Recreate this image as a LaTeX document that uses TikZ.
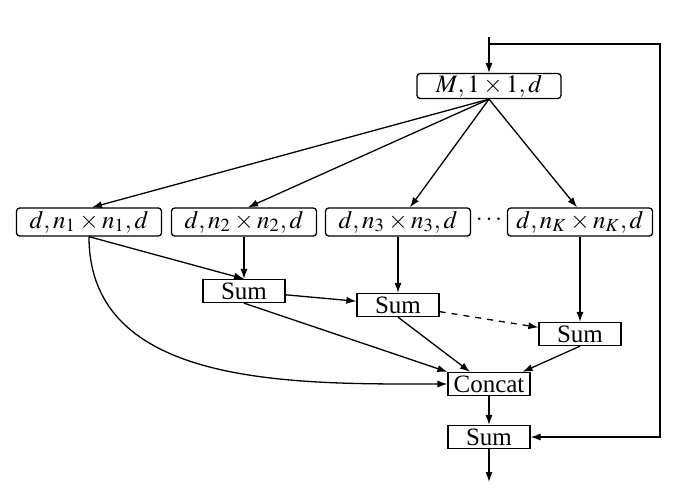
\documentclass[tikz,border=0pt]{standalone}
\usepackage{mathptmx}
\usepackage{fontspec}
\setmainfont{Liberation Serif}
\usetikzlibrary{arrows.meta}

\begin{document}
\begin{tikzpicture}[
            x=0.5pt, y=-0.5pt,
            every node/.style={draw, inner sep=0pt, font=\fontsize{12.5}{14}\selectfont},
            convbox/.style={rounded corners=1.6pt, minimum width=72.5pt, minimum height=14pt},
            sumbox/.style={minimum width=41pt, minimum height=11.5pt},
            arr/.style={-{Latex[length=5pt, width=3.6pt]}, line width=0.65pt},
            line width=0.65pt
            ]
            \useasboundingbox (0,0) rectangle (676,495);
            % input and first layer
            \coordinate (in) at (489,37);
            \coordinate (br) at (489,44);
            \coordinate (fb) at (660,44);
            \node[convbox, minimum width=72pt, minimum height=12.5pt] (top) at (489,86) {$M,1\times1,d$};
            % branches
            \node[convbox] (b1) at (89,222) {$d,n_1\times n_1,d$};
            \node[convbox] (b2) at (244,222) {$d,n_2\times n_2,d$};
            \node[convbox] (b3) at (398,222) {$d,n_3\times n_3,d$};
            \node[draw=none] (dots) at (489,220) {$\cdots$};
            \node[convbox] (bk) at (580,222) {$d,n_K\times n_K,d$};
            % sums
            \node[sumbox] (s1) at (244,291) {Sum};
            \node[sumbox] (s2) at (398,305) {Sum};
            \node[sumbox] (sk) at (580,334) {Sum};
            \node[sumbox] (cc) at (489,384) {Concat};
            \node[sumbox] (sf) at (489,437) {Sum};
            \coordinate (out) at (489,482);

            \draw[arr] (in) -- (top);
            \draw[arr] (br) -- (fb) |- (sf.east);
            \draw[arr] (top.south) -- ([xshift=1.5pt]b1.north);
            \draw[arr] (top.south) -- ([xshift=2pt]b2.north);
            \draw[arr] (top.south) -- ([xshift=6pt]b3.north);
            \draw[arr] (top.south) -- ([xshift=-1.5pt]bk.north);

            \draw[arr] (b1.south) -- (s1.north);
            \draw[arr] (b1.south) to[out=-90, in=180] (cc.west);
            \draw[arr] (b2) -- (s1);
            \draw[arr] (b3) -- (s2);
            \draw[arr] (bk) -- (sk);

            \draw[arr] (s1) -- (s2);
            \draw[arr, dashed] (s2) -- (sk);
            \draw[arr] (s1.south) -- (cc.north west);
            \draw[arr] (s2.south) -- ([xshift=-9.5pt]cc.north);
            \draw[arr] (sk.south) -- ([xshift=-4pt]cc.north east);
            \draw[arr] (cc) -- (sf);
            \draw[arr] (sf) -- (out);
        \end{tikzpicture}
\end{document}
